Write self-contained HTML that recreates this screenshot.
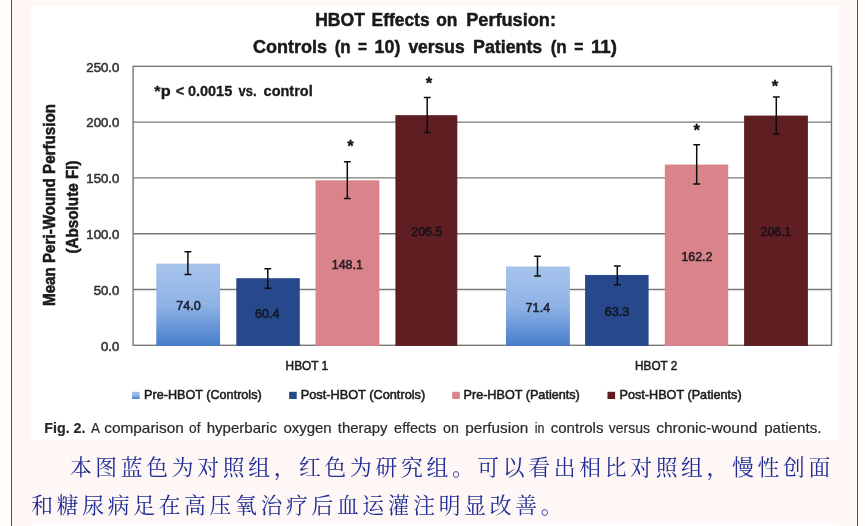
<!DOCTYPE html>
<html lang="zh-CN"><head><meta charset="utf-8"><title>HBOT Effects on Perfusion</title>
<style>
html,body{margin:0;padding:0;background:#fffefd;}
body{width:865px;height:526px;position:relative;overflow:hidden;}
.frame{position:absolute;left:11px;top:0;width:845px;height:526px;background:#fef7f5;border-left:1.3px solid #8a3440;border-right:1.3px solid #8a3440;box-sizing:content-box;}
.img{position:absolute;left:31px;top:6px;width:807.5px;height:434px;background:#fff;}
.img2{position:absolute;left:31px;top:523.2px;width:807.5px;height:10px;background:#fff;}
.zh{position:absolute;white-space:nowrap;height:40px;line-height:40px;font-family:"Liberation Serif","Noto Serif CJK SC",serif;font-size:21.8px;letter-spacing:3.67px;color:#1f2d96;}
</style></head><body>
<div class="frame"></div><div class="img"></div><div class="img2"></div>
<svg width="865" height="526" viewBox="0 0 865 526" style="position:absolute;left:0;top:0" font-family="'Liberation Sans', sans-serif">
<defs><linearGradient id="g1" x1="0" y1="0" x2="0" y2="1"><stop offset="0" stop-color="#a7c3eb"/><stop offset="0.5" stop-color="#8fb3e6"/><stop offset="1" stop-color="#467dcb"/></linearGradient></defs>
<line x1="133.1" x2="831.5" y1="289.50" y2="289.50" stroke="#787878" stroke-width="1.4"/>
<line x1="133.1" x2="831.5" y1="233.70" y2="233.70" stroke="#787878" stroke-width="1.4"/>
<line x1="133.1" x2="831.5" y1="177.90" y2="177.90" stroke="#787878" stroke-width="1.4"/>
<line x1="133.1" x2="831.5" y1="122.10" y2="122.10" stroke="#787878" stroke-width="1.4"/>
<rect x="133.1" y="66.30" width="698.4" height="279.00" fill="none" stroke="#787878" stroke-width="1.4"/>
<rect x="156.3" y="263.62" width="63.8" height="82.28" fill="url(#g1)"/>
<rect x="236.3" y="278.19" width="63.5" height="67.71" fill="#27498b"/>
<rect x="315.5" y="180.32" width="63.9" height="165.58" fill="#d9838b"/>
<rect x="395.4" y="115.15" width="61.9" height="230.75" fill="#5f1f22"/>
<rect x="506.0" y="266.52" width="63.9" height="79.38" fill="url(#g1)"/>
<rect x="585.1" y="274.96" width="63.5" height="70.94" fill="#27498b"/>
<rect x="664.8" y="164.58" width="63.4" height="181.32" fill="#d9838b"/>
<rect x="744.1" y="115.59" width="63.8" height="230.31" fill="#5f1f22"/>
<path d="M184.5 251.7H191.3M184.5 274.5H191.3M187.9 251.7V274.5" stroke="#0d0d0d" stroke-width="1.5" fill="none"/>
<path d="M264.4 268.8H271.2M264.4 288.2H271.2M267.8 268.8V288.2" stroke="#0d0d0d" stroke-width="1.5" fill="none"/>
<path d="M343.9 161.7H350.7M343.9 198.6H350.7M347.3 161.7V198.6" stroke="#0d0d0d" stroke-width="1.5" fill="none"/>
<path d="M423.8 97.5H430.6M423.8 132.5H430.6M427.2 97.5V132.5" stroke="#0d0d0d" stroke-width="1.5" fill="none"/>
<path d="M534.1 256.2H540.9M534.1 276.1H540.9M537.5 256.2V276.1" stroke="#0d0d0d" stroke-width="1.5" fill="none"/>
<path d="M613.9 266.0H620.7M613.9 284.8H620.7M617.3 266.0V284.8" stroke="#0d0d0d" stroke-width="1.5" fill="none"/>
<path d="M693.3 144.8H700.1M693.3 184.0H700.1M696.7 144.8V184.0" stroke="#0d0d0d" stroke-width="1.5" fill="none"/>
<path d="M772.9 96.9H779.7M772.9 134.1H779.7M776.3 96.9V134.1" stroke="#0d0d0d" stroke-width="1.5" fill="none"/>
<text x="176.30" y="310.11" font-size="12.60" textLength="24.60" lengthAdjust="spacingAndGlyphs" fill="#101018" stroke="#101018" stroke-width="0.60" opacity="0.88">74.0 </text>
<text x="255.00" y="317.70" font-size="12.60" textLength="24.60" lengthAdjust="spacingAndGlyphs" fill="#101018" stroke="#101018" stroke-width="0.60" opacity="0.88">60.4 </text>
<text x="331.80" y="268.76" font-size="12.60" textLength="31.01" lengthAdjust="spacingAndGlyphs" fill="#101018" stroke="#101018" stroke-width="0.60" opacity="0.88">148.1 </text>
<text x="411.30" y="236.17" font-size="12.60" textLength="31.01" lengthAdjust="spacingAndGlyphs" fill="#101018" stroke="#101018" stroke-width="0.60" opacity="0.88">206.5 </text>
<text x="525.60" y="311.56" font-size="12.60" textLength="24.60" lengthAdjust="spacingAndGlyphs" fill="#101018" stroke="#101018" stroke-width="0.60" opacity="0.88">71.4 </text>
<text x="604.80" y="316.08" font-size="12.60" textLength="24.60" lengthAdjust="spacingAndGlyphs" fill="#101018" stroke="#101018" stroke-width="0.60" opacity="0.88">63.3 </text>
<text x="681.40" y="260.89" font-size="12.60" textLength="31.01" lengthAdjust="spacingAndGlyphs" fill="#101018" stroke="#101018" stroke-width="0.60" opacity="0.88">162.2 </text>
<text x="760.50" y="236.40" font-size="12.60" textLength="31.01" lengthAdjust="spacingAndGlyphs" fill="#101018" stroke="#101018" stroke-width="0.60" opacity="0.88">206.1 </text>
<text x="350.5" y="151.7" font-size="16.6" font-weight="bold" text-anchor="middle" fill="#111" stroke="#111" stroke-width="0.3">*</text>
<text x="428.9" y="88.6" font-size="16.6" font-weight="bold" text-anchor="middle" fill="#111" stroke="#111" stroke-width="0.3">*</text>
<text x="696.8" y="135.6" font-size="16.6" font-weight="bold" text-anchor="middle" fill="#111" stroke="#111" stroke-width="0.3">*</text>
<text x="775.0" y="91.6" font-size="16.6" font-weight="bold" text-anchor="middle" fill="#111" stroke="#111" stroke-width="0.3">*</text>
<text x="101.10" y="350.60" font-size="12.60" textLength="18.20" lengthAdjust="spacingAndGlyphs" fill="#333" stroke="#333" stroke-width="0.55">0.0 </text>
<text x="93.70" y="294.80" font-size="12.60" textLength="25.60" lengthAdjust="spacingAndGlyphs" fill="#333" stroke="#333" stroke-width="0.55">50.0 </text>
<text x="86.30" y="239.00" font-size="12.60" textLength="33.01" lengthAdjust="spacingAndGlyphs" fill="#333" stroke="#333" stroke-width="0.55">100.0 </text>
<text x="86.30" y="183.20" font-size="12.60" textLength="33.01" lengthAdjust="spacingAndGlyphs" fill="#333" stroke="#333" stroke-width="0.55">150.0 </text>
<text x="86.30" y="127.40" font-size="12.60" textLength="33.01" lengthAdjust="spacingAndGlyphs" fill="#333" stroke="#333" stroke-width="0.55">200.0 </text>
<text x="86.30" y="71.60" font-size="12.60" textLength="33.01" lengthAdjust="spacingAndGlyphs" fill="#333" stroke="#333" stroke-width="0.55">250.0 </text>
<text x="285.60" y="370.20" font-size="12.60" textLength="42.60" lengthAdjust="spacingAndGlyphs" fill="#1c1c1c" stroke="#1c1c1c" stroke-width="0.55">HBOT 1 </text>
<text x="635.10" y="370.20" font-size="12.60" textLength="42.30" lengthAdjust="spacingAndGlyphs" fill="#1c1c1c" stroke="#1c1c1c" stroke-width="0.55">HBOT 2 </text>
<rect x="132.0" y="391.8" width="7.6" height="7.2" fill="url(#g1)"/>
<text x="144.10" y="398.90" font-size="12.60" textLength="117.61" lengthAdjust="spacingAndGlyphs" fill="#1c1c1c" stroke="#1c1c1c" stroke-width="0.55">Pre-HBOT (Controls) </text>
<rect x="289.1" y="391.8" width="7.6" height="7.2" fill="#27498b"/>
<text x="300.70" y="398.90" font-size="12.60" textLength="124.50" lengthAdjust="spacingAndGlyphs" fill="#1c1c1c" stroke="#1c1c1c" stroke-width="0.55">Post-HBOT (Controls) </text>
<rect x="452.2" y="391.8" width="7.6" height="7.2" fill="#d9838b"/>
<text x="463.50" y="398.90" font-size="12.60" textLength="116.30" lengthAdjust="spacingAndGlyphs" fill="#1c1c1c" stroke="#1c1c1c" stroke-width="0.55">Pre-HBOT (Patients) </text>
<rect x="607.5" y="391.8" width="7.6" height="7.2" fill="#5f1f22"/>
<text x="619.50" y="398.90" font-size="12.60" textLength="122.10" lengthAdjust="spacingAndGlyphs" fill="#1c1c1c" stroke="#1c1c1c" stroke-width="0.55">Post-HBOT (Patients) </text>
<text x="315.20" y="25.80" font-size="19.20" font-weight="bold" textLength="49.70" lengthAdjust="spacingAndGlyphs" fill="#1a1a1a" stroke="#1a1a1a" stroke-width="0.50">HBOT </text>
<text x="371.60" y="25.80" font-size="19.20" font-weight="bold" textLength="57.99" lengthAdjust="spacingAndGlyphs" fill="#1a1a1a" stroke="#1a1a1a" stroke-width="0.50">Effects </text>
<text x="436.20" y="25.80" font-size="19.20" font-weight="bold" textLength="21.19" lengthAdjust="spacingAndGlyphs" fill="#1a1a1a" stroke="#1a1a1a" stroke-width="0.50">on </text>
<text x="466.20" y="25.80" font-size="19.20" font-weight="bold" textLength="89.80" lengthAdjust="spacingAndGlyphs" fill="#1a1a1a" stroke="#1a1a1a" stroke-width="0.50">Perfusion: </text>
<text x="253.10" y="52.60" font-size="19.20" font-weight="bold" textLength="74.00" lengthAdjust="spacingAndGlyphs" fill="#1a1a1a" stroke="#1a1a1a" stroke-width="0.50">Controls </text>
<text x="334.70" y="52.60" font-size="19.20" font-weight="bold" textLength="16.00" lengthAdjust="spacingAndGlyphs" fill="#1a1a1a" stroke="#1a1a1a" stroke-width="0.50">(n </text>
<text x="358.00" y="52.60" font-size="19.20" font-weight="bold" textLength="9.00" lengthAdjust="spacingAndGlyphs" fill="#1a1a1a" stroke="#1a1a1a" stroke-width="0.50">= </text>
<text x="374.60" y="52.60" font-size="19.20" font-weight="bold" textLength="25.71" lengthAdjust="spacingAndGlyphs" fill="#1a1a1a" stroke="#1a1a1a" stroke-width="0.50">10) </text>
<text x="408.40" y="52.60" font-size="19.20" font-weight="bold" textLength="56.29" lengthAdjust="spacingAndGlyphs" fill="#1a1a1a" stroke="#1a1a1a" stroke-width="0.50">versus </text>
<text x="473.10" y="52.60" font-size="19.20" font-weight="bold" textLength="69.10" lengthAdjust="spacingAndGlyphs" fill="#1a1a1a" stroke="#1a1a1a" stroke-width="0.50">Patients </text>
<text x="550.70" y="52.60" font-size="19.20" font-weight="bold" textLength="16.10" lengthAdjust="spacingAndGlyphs" fill="#1a1a1a" stroke="#1a1a1a" stroke-width="0.50">(n </text>
<text x="574.30" y="52.60" font-size="19.20" font-weight="bold" textLength="9.20" lengthAdjust="spacingAndGlyphs" fill="#1a1a1a" stroke="#1a1a1a" stroke-width="0.50">= </text>
<text x="591.00" y="52.60" font-size="19.20" font-weight="bold" textLength="25.90" lengthAdjust="spacingAndGlyphs" fill="#1a1a1a" stroke="#1a1a1a" stroke-width="0.50">11) </text>
<text x="154.30" y="95.60" font-size="15.10" font-weight="bold" textLength="16.31" lengthAdjust="spacingAndGlyphs" fill="#1a1a1a" stroke="#1a1a1a" stroke-width="0.30">*p </text>
<text x="175.82" y="95.60" font-size="15.10" font-weight="bold" textLength="8.47" lengthAdjust="spacingAndGlyphs" fill="#1a1a1a" stroke="#1a1a1a" stroke-width="0.30">&lt; </text>
<text x="187.88" y="95.60" font-size="15.10" font-weight="bold" textLength="44.34" lengthAdjust="spacingAndGlyphs" fill="#1a1a1a" stroke="#1a1a1a" stroke-width="0.30">0.0015 </text>
<text x="238.47" y="95.60" font-size="15.10" font-weight="bold" textLength="18.05" lengthAdjust="spacingAndGlyphs" fill="#1a1a1a" stroke="#1a1a1a" stroke-width="0.30">vs. </text>
<text x="263.59" y="95.60" font-size="15.10" font-weight="bold" textLength="49.12" lengthAdjust="spacingAndGlyphs" fill="#1a1a1a" stroke="#1a1a1a" stroke-width="0.30">control </text>
<g transform="translate(55.3 306.0) rotate(-90)">
<text x="0.00" y="0.00" font-size="16.00" font-weight="bold" textLength="202.00" lengthAdjust="spacingAndGlyphs" fill="#1a1a1a" stroke="#1a1a1a" stroke-width="0.55">Mean Peri-Wound Perfusion </text>
</g>
<g transform="translate(78.0 253.5) rotate(-90)">
<text x="0.00" y="0.00" font-size="16.00" font-weight="bold" textLength="93.01" lengthAdjust="spacingAndGlyphs" fill="#1a1a1a" stroke="#1a1a1a" stroke-width="0.55">(Absolute FI) </text>
</g>
<text x="44.30" y="432.50" font-size="14.40" font-weight="bold" textLength="41.20" lengthAdjust="spacingAndGlyphs" fill="#2a2a2a" stroke="#2a2a2a" stroke-width="0.20">Fig. 2. </text>
<text x="91.00" y="432.50" font-size="14.40" textLength="9.00" lengthAdjust="spacingAndGlyphs" fill="#2a2a2a" stroke="#2a2a2a" stroke-width="0.20">A </text>
<text x="104.20" y="432.50" font-size="14.40" textLength="79.60" lengthAdjust="spacingAndGlyphs" fill="#2a2a2a" stroke="#2a2a2a" stroke-width="0.20">comparison </text>
<text x="189.10" y="432.50" font-size="14.40" textLength="11.37" lengthAdjust="spacingAndGlyphs" fill="#2a2a2a" stroke="#2a2a2a" stroke-width="0.20">of </text>
<text x="206.70" y="432.50" font-size="14.40" textLength="70.30" lengthAdjust="spacingAndGlyphs" fill="#2a2a2a" stroke="#2a2a2a" stroke-width="0.20">hyperbaric </text>
<text x="283.40" y="432.50" font-size="14.40" textLength="48.29" lengthAdjust="spacingAndGlyphs" fill="#2a2a2a" stroke="#2a2a2a" stroke-width="0.20">oxygen </text>
<text x="337.80" y="432.50" font-size="14.40" textLength="49.71" lengthAdjust="spacingAndGlyphs" fill="#2a2a2a" stroke="#2a2a2a" stroke-width="0.20">therapy </text>
<text x="394.10" y="432.50" font-size="14.40" textLength="42.30" lengthAdjust="spacingAndGlyphs" fill="#2a2a2a" stroke="#2a2a2a" stroke-width="0.20">effects </text>
<text x="443.00" y="432.50" font-size="14.40" textLength="15.80" lengthAdjust="spacingAndGlyphs" fill="#2a2a2a" stroke="#2a2a2a" stroke-width="0.20">on </text>
<text x="465.20" y="432.50" font-size="14.40" textLength="63.00" lengthAdjust="spacingAndGlyphs" fill="#2a2a2a" stroke="#2a2a2a" stroke-width="0.20">perfusion </text>
<text x="534.80" y="432.50" font-size="14.40" textLength="9.70" lengthAdjust="spacingAndGlyphs" fill="#2a2a2a" stroke="#2a2a2a" stroke-width="0.20">in </text>
<text x="550.70" y="432.50" font-size="14.40" textLength="52.81" lengthAdjust="spacingAndGlyphs" fill="#2a2a2a" stroke="#2a2a2a" stroke-width="0.20">controls </text>
<text x="608.80" y="432.50" font-size="14.40" textLength="41.20" lengthAdjust="spacingAndGlyphs" fill="#2a2a2a" stroke="#2a2a2a" stroke-width="0.20">versus </text>
<text x="656.20" y="432.50" font-size="14.40" textLength="101.11" lengthAdjust="spacingAndGlyphs" fill="#2a2a2a" stroke="#2a2a2a" stroke-width="0.20">chronic-wound </text>
<text x="764.20" y="432.50" font-size="14.40" textLength="57.30" lengthAdjust="spacingAndGlyphs" fill="#2a2a2a" stroke="#2a2a2a" stroke-width="0.20">patients. </text>
</svg>
<div class="zh" style="left:69.9px;top:447.5px">本图蓝色为对照组，红色为研究组。可以看出相比对照组，慢性创面</div>
<div class="zh" style="left:31.3px;top:486.0px">和糖尿病足在高压氧治疗后血运灌注明显改善。</div>
</body></html>
